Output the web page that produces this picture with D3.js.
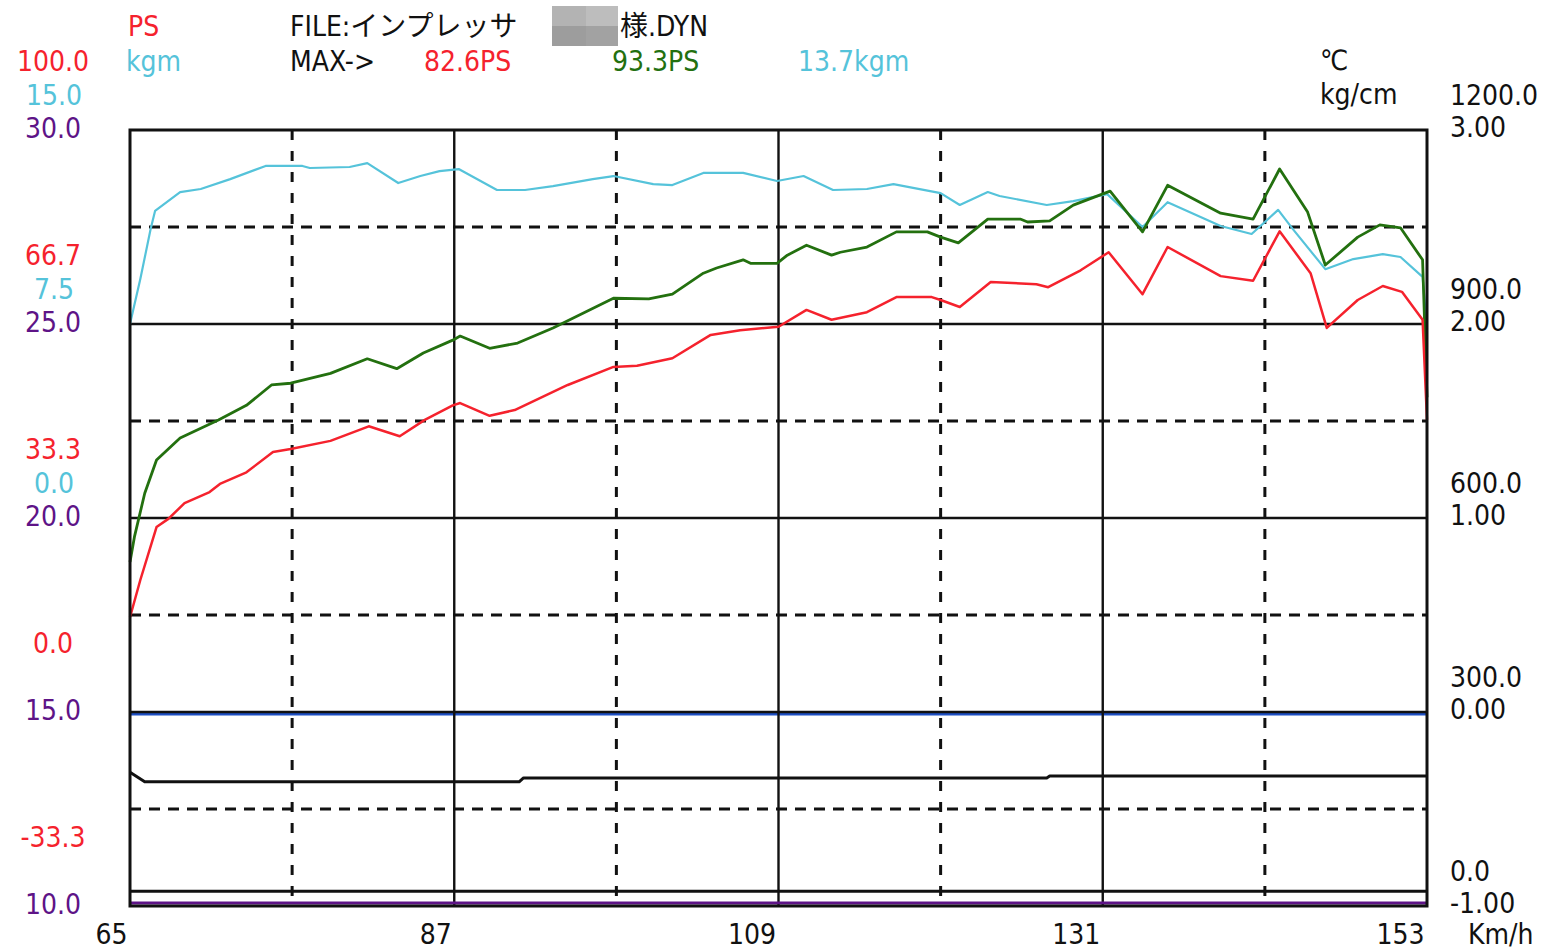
<!DOCTYPE html>
<html>
<head>
<meta charset="utf-8">
<script src="https://cdn.jsdelivr.net/npm/d3@7"></script>
<style>
    body { margin: 0; background: #fff; }
    svg text { font-family: "Liberation Sans Narrow", "DejaVu Sans Condensed", "Liberation Sans", "Noto Sans CJK JP", sans-serif; font-size: 28px; }
    .jp { font-family: "Liberation Sans Narrow", "DejaVu Sans Condensed", "Noto Sans CJK JP", sans-serif; }
</style>
</head>
<body>
<div id="chart"></div>
<script>
let width = 1555,
    height = 952,
    plotLeft = 130,
    plotRight = 1427,
    plotTop = 130,
    plotBottom = 906;

const red = '#f5222d',
    cyan = '#55c3da',
    green = '#23700f',
    purple = '#5e1487',
    blue = '#1d4fc4';

// km/h axis
const speedTicks = [65, 87, 109, 131, 153];
const speedGrid = [65, 76, 87, 98, 109, 120, 131, 142, 153];

// left axes
const psTicks = [-33.3, 0, 33.3, 66.7, 100];
const kgmTicks = [0, 7.5, 15];
const afTicks = [10, 15, 20, 25, 30];
// right axes
const tempTicks = [0, 300, 600, 900, 1200];
const boostTicks = [-1, 0, 1, 2, 3];

// red: wheel PS
const wheelPs = [[65.0,16.3],[65.7,22.7],[66.8,31.8],[67.6,33.2],[68.7,35.9],[70.4,37.8],[71.1,39.2],[72.9,41.2],[74.7,44.7],[75.9,45.2],
    [78.6,46.6],[81.2,49.1],[83.3,47.4],[85.0,50.2],[86.9,52.7],[87.4,53.1],[89.4,50.9],[91.1,51.9],[94.7,56.2],[97.8,59.3],
    [99.4,59.5],[101.8,60.8],[104.4,64.8],[106.4,65.6],[109.0,66.2],[110.9,69.1],[112.6,67.4],[115.0,68.7],[117.0,71.3],[119.4,71.3],
    [120.0,70.8],[121.3,69.6],[123.4,73.9],[126.5,73.5],[127.3,73.0],[129.5,75.9],[131.4,79.0],[133.7,71.8],[135.4,79.9],[139.0,74.9],
    [141.2,74.1],[143.0,82.6],[145.1,75.4],[146.2,66.0],[148.3,70.8],[150.0,73.2],[151.3,72.2],[152.7,67.4],[153.0,50.2]];

// green: engine PS
const enginePs = [[65.0,25.8],[65.3,30.1],[66.0,37.6],[66.8,43.3],[68.4,47.1],[71.0,50.2],[72.9,52.7],[74.6,56.2],[75.9,56.5],[78.6,58.2],
    [81.1,60.7],[83.1,59.0],[84.9,61.7],[86.9,63.9],[87.4,64.6],[89.4,62.5],[91.3,63.4],[93.7,66.0],[97.8,71.1],[100.2,71.0],
    [101.8,71.8],[103.9,75.4],[104.8,76.3],[106.6,77.7],[107.1,77.1],[108.9,77.1],[109.6,78.5],[110.9,80.2],[112.6,78.5],[113.2,79.0],
    [115.0,79.9],[117.0,82.5],[119.1,82.5],[120.0,81.6],[121.2,80.6],[123.2,84.7],[125.4,84.7],[125.9,84.2],[127.4,84.4],[129.0,87.1],
    [131.5,89.5],[133.7,82.5],[135.4,90.5],[139.0,85.7],[141.2,84.7],[143.0,93.3],[144.9,85.9],[146.1,76.8],[148.3,81.6],[149.8,83.7],
    [151.2,83.2],[152.7,77.7],[153.0,54.1]];

// cyan: torque kgm
const torque = [[65.0,7.5],[65.7,9.24],[66.4,11.17],[66.7,11.87],[68.4,12.6],[69.8,12.72],[71.8,13.1],[74.2,13.61],[76.7,13.61],[77.2,13.53],
    [79.9,13.57],[81.1,13.72],[83.2,12.95],[84.7,13.22],[86.0,13.41],[87.3,13.49],[89.9,12.68],[91.8,12.68],[93.7,12.83],[96.4,13.1],
    [97.8,13.22],[100.5,12.91],[101.8,12.87],[103.9,13.34],[106.6,13.34],[108.9,13.03],[110.7,13.22],[112.7,12.68],[115.0,12.72],[116.8,12.91],
    [120.0,12.56],[121.3,12.1],[123.2,12.6],[124.0,12.45],[127.2,12.1],[129.0,12.25],[131.3,12.52],[133.7,11.25],[135.4,12.21],[139.0,11.29],
    [141.1,10.98],[142.9,11.91],[143.9,11.17],[146.1,9.62],[148.0,10.01],[150.0,10.2],[151.2,10.09],[152.7,9.32],[153.0,7.31]];

// black: temperatures (C)
const tempA = [[65,207],[66,192],[91.4,192],[91.7,198],[127.2,198],[127.4,201],[153,201]];
const tempB = [[65,23],[153,23]];
// blue: boost kg/cm
const boost = [[65,-0.012],[153,-0.012]];
// purple: A/F
const afr = [[65,10.08],[153,10.08]];

const x = d3.scaleLinear().domain([65, 153]).range([plotLeft, plotRight]);
const yPs = d3.scaleLinear().domain([-33.3, 100]).range([plotBottom, plotTop]);
const yKgm = d3.scaleLinear().domain([-15, 15]).range([plotBottom, plotTop]);
const yAf = d3.scaleLinear().domain([10, 30]).range([plotBottom, plotTop]);
const yTemp = d3.scaleLinear().domain([0, 1200]).range([plotBottom, plotTop]);
const yBoost = d3.scaleLinear().domain([-1, 3]).range([plotBottom, plotTop]);
const yGrid = d3.scaleLinear().domain([0, 8]).range([plotBottom, plotTop]);

const line = function (ys) {
    return d3.line().x(d => x(d[0])).y(d => ys(d[1]));
};

function drawChart() {
    const svg = d3.select('#chart').append('svg')
        .attr('width', width)
        .attr('height', height);

    // header
    svg.append('text').attr('x', 128).attr('y', 36).attr('fill', red).text('PS');
    svg.append('text').attr('x', 126).attr('y', 71).attr('fill', cyan).text('kgm');
    svg.append('text').attr('class', 'jp').attr('x', 290).attr('y', 36).attr('fill', '#111').text('FILE:インプレッサ');
    // blurred name
    const blur = svg.append('g');
    [['#b3b3b3', 552, 6, 34, 20], ['#bdbdbd', 586, 6, 32, 20], ['#9d9d9d', 552, 26, 34, 20], ['#a2a2a2', 586, 26, 32, 20]]
        .forEach(function (r) {
            blur.append('rect').attr('x', r[1]).attr('y', r[2]).attr('width', r[3]).attr('height', r[4]).attr('fill', r[0]);
        });
    svg.append('text').attr('class', 'jp').attr('x', 620).attr('y', 36).attr('fill', '#111').text('様.DYN');
    svg.append('text').attr('x', 290).attr('y', 71).attr('fill', '#111').text('MAX->');
    svg.append('text').attr('x', 424).attr('y', 71).attr('fill', red).text(d3.max(wheelPs, d => d[1]).toFixed(1) + 'PS');
    svg.append('text').attr('x', 612).attr('y', 71).attr('fill', green).text(d3.max(enginePs, d => d[1]).toFixed(1) + 'PS');
    svg.append('text').attr('x', 798).attr('y', 71).attr('fill', cyan).text(d3.max(torque, d => d[1]).toFixed(1) + 'kgm');
    svg.append('text').attr('x', 1320).attr('y', 70).attr('fill', '#111').text('℃');
    svg.append('text').attr('x', 1320).attr('y', 104).attr('fill', '#111').text('kg/cm');

    // boost sits just under the 0.00 grid line
    svg.append('path')
        .attr('fill', 'none').attr('stroke', blue).attr('stroke-width', 2.5)
        .attr('d', line(yBoost)(boost));

    // grid
    const grid = svg.append('g').attr('stroke', '#111').attr('fill', 'none');
    grid.selectAll('.hgrid')
        .data(d3.range(1, 8)).enter()
        .append('line')
        .attr('x1', plotLeft).attr('x2', plotRight)
        .attr('y1', d => yGrid(d)).attr('y2', d => yGrid(d))
        .attr('stroke-width', d => d % 2 ? 3 : 2.4)
        .attr('stroke-dasharray', d => d % 2 ? '11,8' : null);
    grid.selectAll('.vgrid')
        .data(speedGrid.slice(1, -1)).enter()
        .append('line')
        .attr('x1', d => x(d)).attr('x2', d => x(d))
        .attr('y1', plotTop).attr('y2', plotBottom)
        .attr('stroke-width', d => ((d - 65) / 11) % 2 ? 3 : 2.4)
        .attr('stroke-dasharray', d => ((d - 65) / 11) % 2 ? '10,11' : null);

    const series = [
        {data: tempA, y: yTemp, color: '#111', w: 3},
        {data: tempB, y: yTemp, color: '#111', w: 3},
        {data: afr, y: yAf, color: purple, w: 3},
        {data: torque, y: yKgm, color: cyan, w: 2.2},
        {data: enginePs, y: yPs, color: green, w: 2.8},
        {data: wheelPs, y: yPs, color: red, w: 2.5}
    ];
    svg.append('g').selectAll('path')
        .data(series).enter()
        .append('path')
        .attr('fill', 'none')
        .attr('stroke', d => d.color)
        .attr('stroke-width', d => d.w)
        .attr('stroke-linejoin', 'round')
        .attr('d', d => line(d.y)(d.data));

    // frame
    svg.append('rect')
        .attr('x', plotLeft).attr('y', plotTop)
        .attr('width', plotRight - plotLeft).attr('height', plotBottom - plotTop)
        .attr('fill', 'none').attr('stroke', '#111').attr('stroke-width', 3);

    // left labels
    const leftAxis = svg.append('g').attr('text-anchor', 'middle');
    leftAxis.selectAll('.ps').data(psTicks).enter().append('text')
        .attr('x', 53).attr('y', d => yPs(d) - 59).attr('fill', red)
        .text(d => d.toFixed(1));
    leftAxis.selectAll('.kgm').data(kgmTicks).enter().append('text')
        .attr('x', 54).attr('y', d => yKgm(d) - 25).attr('fill', cyan)
        .text(d => d.toFixed(1));
    leftAxis.selectAll('.af').data(afTicks).enter().append('text')
        .attr('x', 53).attr('y', d => yAf(d) + 8).attr('fill', purple)
        .text(d => d.toFixed(1));

    // right labels
    const rightAxis = svg.append('g').attr('fill', '#111');
    rightAxis.selectAll('.temp').data(tempTicks).enter().append('text')
        .attr('x', 1450).attr('y', d => yTemp(d) - 25)
        .text(d => d.toFixed(1));
    rightAxis.selectAll('.boost').data(boostTicks).enter().append('text')
        .attr('x', 1450).attr('y', d => yBoost(d) + 7)
        .text(d => d.toFixed(2));

    // bottom labels
    const xAxis = svg.append('g')
        .attr('transform', 'translate(0,' + plotBottom + ')')
        .call(d3.axisBottom(x).tickValues(speedTicks).tickSize(0).tickPadding(0).tickFormat(d3.format('d')));
    xAxis.select('.domain').remove();
    xAxis.selectAll('text')
        .attr('text-anchor', 'end')
        .attr('dx', -3)
        .attr('dy', 0)
        .attr('y', 38)
        .attr('fill', '#111')
        .style('font-size', '28px')
        .style('font-family', '"Liberation Sans Narrow", "DejaVu Sans Condensed", sans-serif');
    svg.append('text').attr('x', 1468).attr('y', 944).attr('fill', '#111').text('Km/h');
}

drawChart();
</script>
</body>
</html>
